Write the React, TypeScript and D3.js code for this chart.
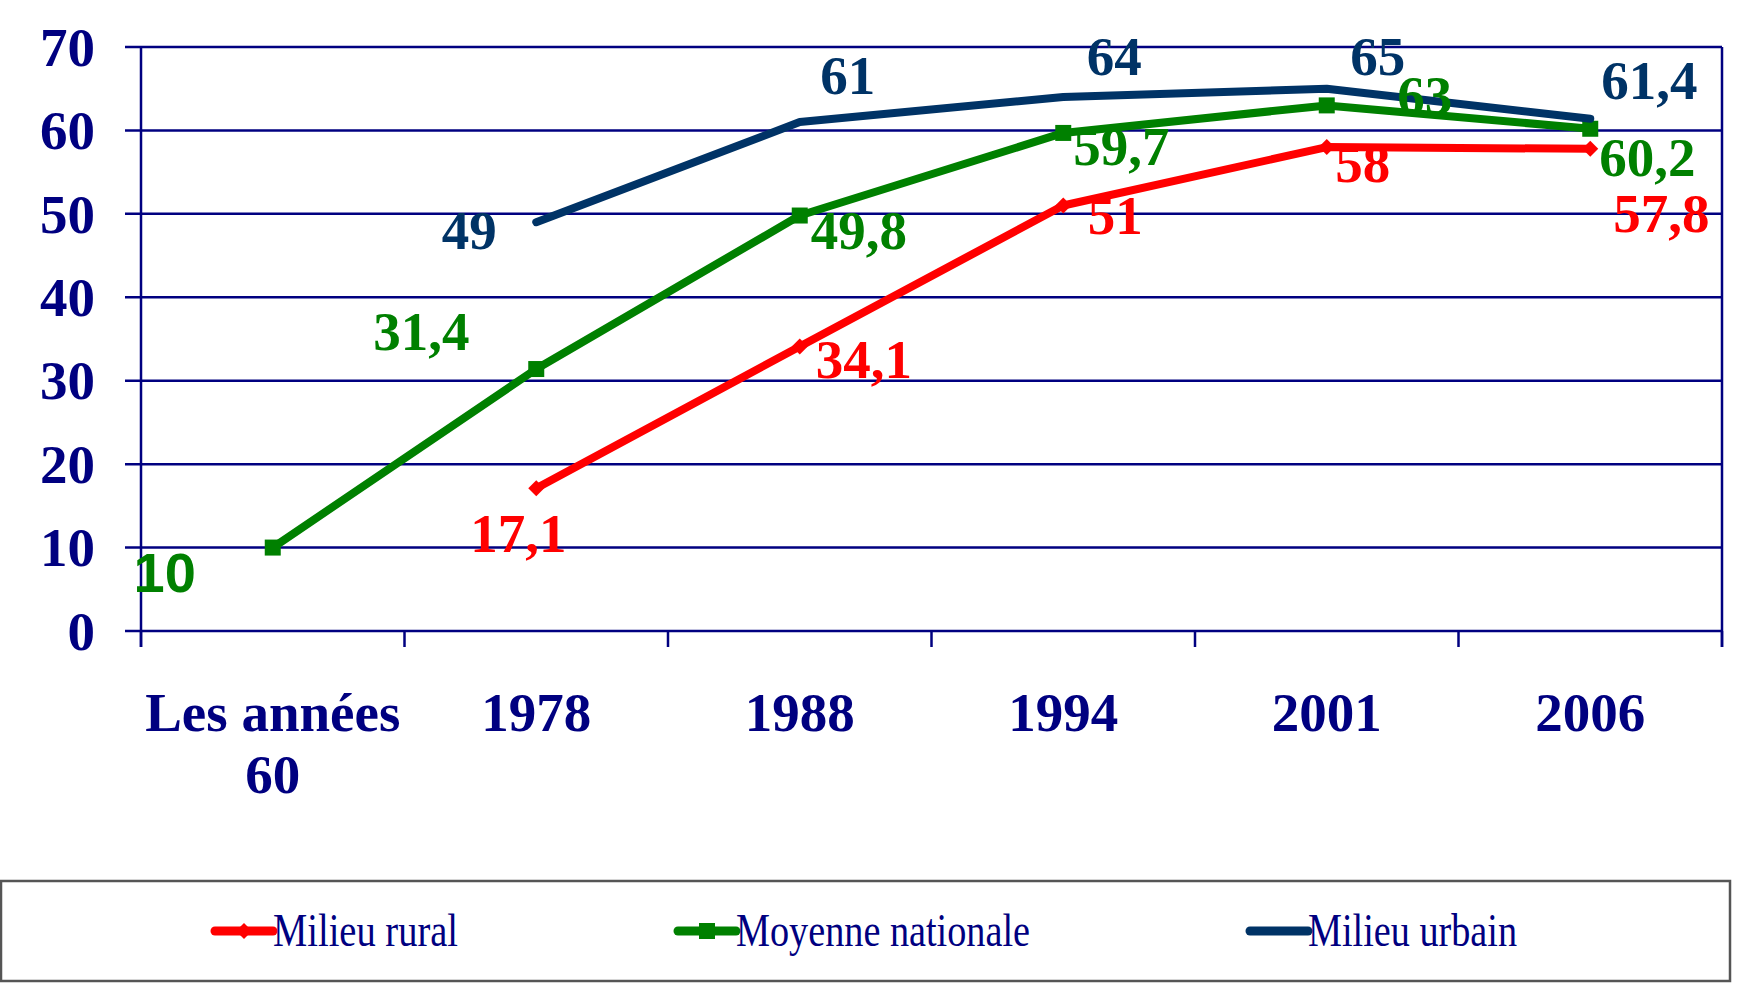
import React from 'react';
import * as d3 from 'd3';

// --- data ---
const categories = ['Les années 60', '1978', '1988', '1994', '2001', '2006'];
const categoryLines = [['Les années', '60'], ['1978'], ['1988'], ['1994'], ['2001'], ['2006']];
const yTicks = [0, 10, 20, 30, 40, 50, 60, 70];

const rural: (number | null)[] = [null, 17.1, 34.1, 51, 58, 57.8];
const nationale: (number | null)[] = [10, 31.4, 49.8, 59.7, 63, 60.2];
const urbain: (number | null)[] = [null, 49, 61, 64, 65, 61.4];

const legendNames = ['Milieu rural', 'Moyenne nationale', 'Milieu urbain'];

// label offsets from the point (dx, dy to baseline centre)
const ruralOffsets = [null, [-18, 64], [64, 31], [52, 28], [36, 35], [71, 83]];
const nationaleOffsets = [[-108, 44], [-115, -19], [59, 33], [58, 32], [98, 9], [57, 47]];
const urbainOffsets = [null, [-67, 27], [48, -28], [51, -22], [51, -14], [59, -20]];

const W = 1758;
const H = 987;
const margin = { left: 141, right: 1722, top: 47, bottom: 631 };
const NAVY = '#000080';
const SERIF = '"Liberation Serif", "Times New Roman", serif';

const series = [
  { name: legendNames[0], values: rural, offsets: ruralOffsets, color: '#FF0000', marker: 'diamond', legendW: 185 },
  { name: legendNames[1], values: nationale, offsets: nationaleOffsets, color: '#008000', marker: 'square', legendW: 294 },
  { name: legendNames[2], values: urbain, offsets: urbainOffsets, color: '#003366', marker: 'none', legendW: 209 },
];

const fmt = (v: number) => String(v).replace('.', ',');

const Marker: React.FC<{ kind: string; x: number; y: number; color: string }> = ({ kind, x, y, color }) => {
  if (kind === 'square') return <rect x={x - 8} y={y - 8} width={16} height={16} fill={color} />;
  if (kind === 'diamond')
    return <path d={`M${x},${y - 8}L${x + 8},${y}L${x},${y + 8}L${x - 8},${y}Z`} fill={color} />;
  return null;
};

export default function App() {
  const x = d3.scaleBand<string>().domain(categories).range([margin.left, margin.right]);
  const y = d3.scaleLinear().domain([0, 70]).range([margin.bottom, margin.top]);
  const cx = (c: string) => (x(c) as number) + x.bandwidth() / 2;

  const line = d3
    .line<[string, number | null]>()
    .defined((d) => d[1] !== null)
    .x((d) => cx(d[0]))
    .y((d) => y(d[1] as number));

  const boundaries = categories.map((c) => x(c) as number).concat([margin.right]);

  // legend layout
  const legendY = 931;
  const symW = 58;
  const gap = 220;
  let lx = 215;
  const legendItems = series.map((s) => {
    const item = { ...s, x: lx };
    lx += symW + s.legendW + gap;
    return item;
  });

  return (
    <svg width={W} height={H} style={{ position: 'absolute', left: 0, top: 0, background: '#fff' }}>
      {/* grid lines */}
      {yTicks.map((t) => (
        <line key={t} x1={margin.left - 16} x2={margin.right} y1={y(t)} y2={y(t)} stroke={NAVY} strokeWidth={2.5} />
      ))}
      {/* axes */}
      <line x1={margin.left} x2={margin.left} y1={margin.top} y2={margin.bottom + 16} stroke={NAVY} strokeWidth={2.5} />
      <line x1={margin.right} x2={margin.right} y1={margin.top} y2={margin.bottom + 16} stroke={NAVY} strokeWidth={2.5} />
      {boundaries.map((b, i) => (
        <line key={i} x1={b} x2={b} y1={margin.bottom} y2={margin.bottom + 16} stroke={NAVY} strokeWidth={2.5} />
      ))}
      {/* y labels */}
      {yTicks.map((t) => (
        <text key={t} x={95} y={y(t)} dy="0.34em" textAnchor="end" fontFamily={SERIF} fontWeight="bold" fontSize={55} fill={NAVY}>
          {t}
        </text>
      ))}
      {/* x labels */}
      {categories.map((c, i) => (
        <text key={c} x={cx(c)} y={731} textAnchor="middle" fontFamily={SERIF} fontWeight="bold" fontSize={55} fill={NAVY}>
          {categoryLines[i].map((l, j) => (
            <tspan key={j} x={cx(c)} dy={j === 0 ? 0 : 62}>
              {l}
            </tspan>
          ))}
        </text>
      ))}
      {/* series */}
      {series.map((s) => {
        const pts = categories.map((c, i) => [c, s.values[i]] as [string, number | null]);
        return (
          <g key={s.name}>
            <path d={line(pts) || ''} fill="none" stroke={s.color} strokeWidth={8} strokeLinejoin="round" strokeLinecap="round" />
            {pts.map(([c, v], i) =>
              v === null ? null : <Marker key={i} kind={s.marker} x={cx(c)} y={y(v)} color={s.color} />
            )}
          </g>
        );
      })}
      {/* data labels */}
      {series.map((s) =>
        categories.map((c, i) => {
          const v = s.values[i];
          const off = s.offsets[i];
          if (v === null || !off) return null;
          const isSans = s.marker === 'square' && i === 0;
          return (
            <text
              key={s.name + c}
              x={cx(c) + off[0]}
              y={y(v) + off[1]}
              textAnchor="middle"
              fontFamily={isSans ? '"Liberation Sans", Arial, sans-serif' : SERIF}
              fontWeight="bold"
              fontSize={isSans ? 56 : 55}
              fill={s.color}
            >
              {fmt(v)}
            </text>
          );
        })
      )}
      {/* legend */}
      <rect x={1} y={881} width={1729} height={100} fill="none" stroke="#555" strokeWidth={2.5} />
      {legendItems.map((s) => (
        <g key={s.name}>
          <line x1={s.x} x2={s.x + symW} y1={legendY} y2={legendY} stroke={s.color} strokeWidth={9} strokeLinecap="round" />
          <Marker kind={s.marker === 'none' ? 'none' : s.marker} x={s.x + symW / 2} y={legendY} color={s.color} />
          <text
            x={s.x + symW}
            y={946}
            fontFamily={SERIF}
            fontSize={46}
            fill={NAVY}
            textLength={s.legendW}
            lengthAdjust="spacingAndGlyphs"
          >
            {s.name}
          </text>
        </g>
      ))}
    </svg>
  );
}
